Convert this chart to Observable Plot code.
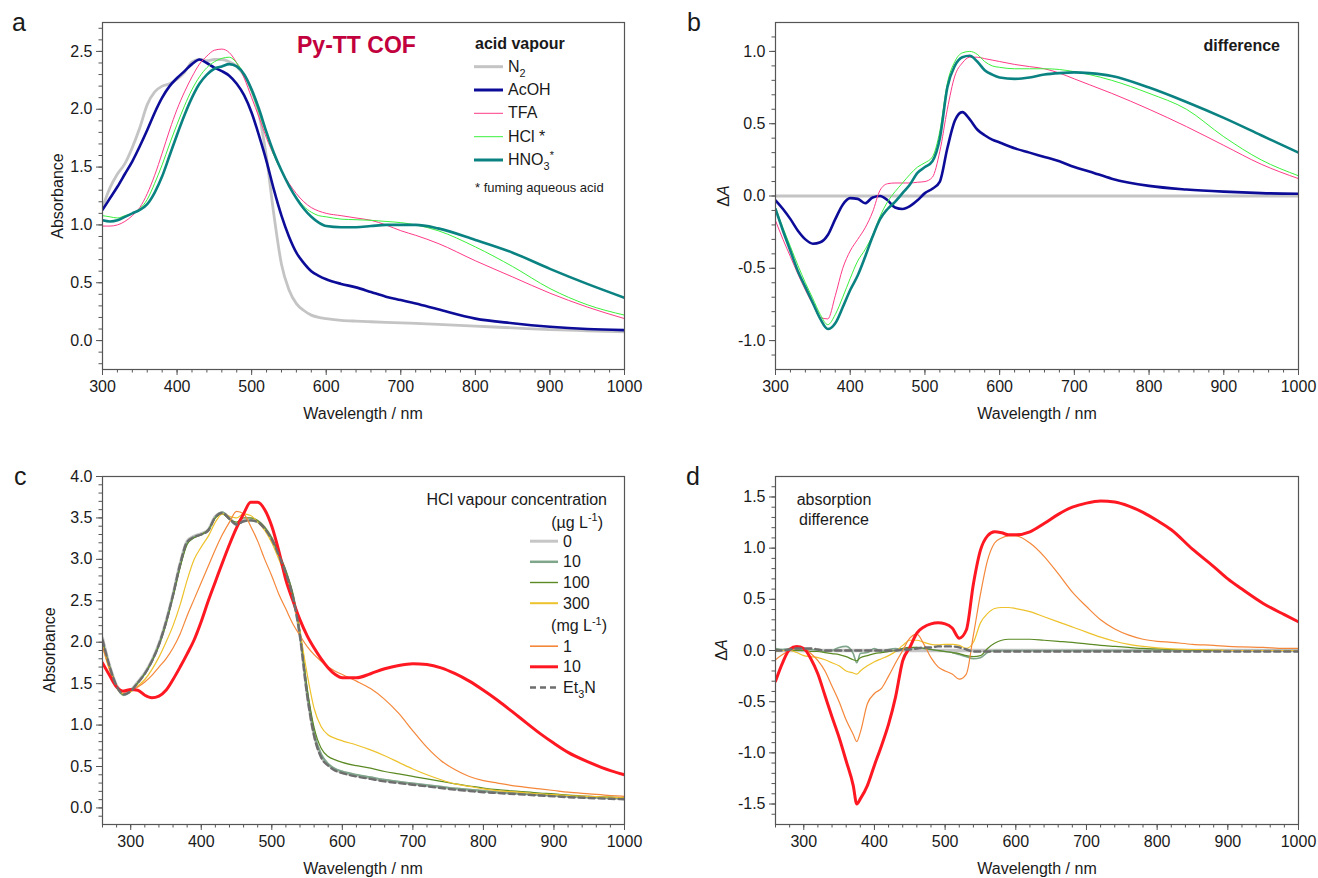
<!DOCTYPE html>
<html>
<head>
<meta charset="utf-8">
<script src="https://cdn.jsdelivr.net/npm/d3@7"></script>
<script src="https://cdn.jsdelivr.net/npm/@observablehq/plot@0.6"></script>
<style>
  body { margin: 0; background: #fff; }
  #fig { position: relative; width: 1318px; height: 878px; overflow: hidden; background: #fff;
         font-family: "Liberation Sans", Arial, Helvetica, sans-serif; }
  #fig svg { position: absolute; }
</style>
</head>
<body>
<div id="fig"></div>
<script>
// ---------- (a) absorbance under acid vapours ----------
const wlA = [300,310,320,330,340,350,360,370,380,390,400,410,420,430,440,450,460,470,480,490,500,510,520,530,540,550,560,570,580,
             590,600,620,640,660,680,700,720,750,800,850,900,950,1000];
const absN2   = [1.15,1.32,1.44,1.53,1.67,1.84,2.04,2.15,2.20,2.22,2.26,2.32,2.41,2.43,2.42,2.43,2.43,2.41,2.37,2.29,2.16,1.95,1.58,1.08,0.66,0.44,0.32,0.26,0.22,
                 0.20,0.19,0.175,0.168,0.163,0.158,0.153,0.148,0.14,0.125,0.11,0.095,0.085,0.075];
const absAcOH = [1.13,1.23,1.33,1.44,1.55,1.68,1.82,1.97,2.10,2.20,2.27,2.33,2.39,2.43,2.40,2.36,2.33,2.29,2.22,2.12,1.97,1.77,1.55,1.30,1.08,0.90,0.76,0.67,0.60,
                 0.56,0.53,0.49,0.46,0.42,0.38,0.35,0.32,0.27,0.19,0.15,0.12,0.10,0.09];
const absTFA  = [0.99,0.99,1.00,1.03,1.08,1.15,1.27,1.43,1.62,1.82,2.00,2.15,2.28,2.39,2.46,2.51,2.52,2.49,2.40,2.27,2.10,1.93,1.75,1.60,1.47,1.36,1.27,1.20,1.15,
                 1.12,1.10,1.08,1.06,1.04,1.00,0.95,0.91,0.84,0.69,0.55,0.41,0.29,0.19];
const absHCl  = [1.08,1.07,1.06,1.08,1.10,1.14,1.22,1.36,1.52,1.70,1.87,2.03,2.17,2.28,2.36,2.41,2.44,2.45,2.40,2.30,2.15,1.97,1.78,1.60,1.46,1.34,1.24,1.16,1.11,
                 1.08,1.07,1.05,1.045,1.04,1.03,1.02,1.00,0.95,0.81,0.64,0.45,0.31,0.22];
const absHNO3 = [1.04,1.03,1.04,1.07,1.10,1.13,1.18,1.28,1.42,1.60,1.78,1.95,2.10,2.22,2.30,2.35,2.37,2.39,2.37,2.30,2.17,2.00,1.80,1.62,1.47,1.34,1.23,1.14,1.07,
                 1.02,0.99,0.98,0.98,0.99,1.00,1.00,1.00,0.97,0.87,0.76,0.62,0.49,0.37];

// ---------- (b) difference spectra (same wavelength grid) ----------
const wlZeroB  = [300, 1000];
const diffN2   = [0, 0];
const diffAcOH = [-0.03,-0.09,-0.16,-0.24,-0.30,-0.33,-0.32,-0.27,-0.16,-0.06,-0.015,-0.02,-0.05,-0.01,0.00,-0.03,-0.08,-0.09,-0.07,-0.03,0.02,0.05,0.10,0.33,0.52,0.58,0.53,0.46,0.42,
                  0.39,0.37,0.33,0.30,0.27,0.24,0.20,0.17,0.12,0.07,0.045,0.03,0.02,0.015];
const diffTFA  = [-0.17,-0.30,-0.42,-0.54,-0.65,-0.75,-0.84,-0.85,-0.69,-0.50,-0.38,-0.30,-0.22,-0.11,0.04,0.085,0.09,0.09,0.09,0.095,0.10,0.13,0.31,0.60,0.83,0.92,0.96,0.96,0.95,
                  0.94,0.93,0.91,0.895,0.88,0.85,0.81,0.77,0.71,0.60,0.48,0.35,0.22,0.12];
const diffHCl  = [-0.08,-0.22,-0.35,-0.48,-0.60,-0.71,-0.82,-0.89,-0.82,-0.70,-0.57,-0.45,-0.37,-0.27,-0.14,-0.04,0.03,0.09,0.15,0.20,0.23,0.27,0.45,0.78,0.93,0.99,1.00,0.98,0.93,
                  0.90,0.89,0.88,0.88,0.88,0.875,0.86,0.84,0.80,0.71,0.60,0.41,0.25,0.14];
const diffHNO3 = [-0.09,-0.24,-0.38,-0.52,-0.63,-0.74,-0.85,-0.92,-0.88,-0.77,-0.65,-0.55,-0.42,-0.28,-0.16,-0.09,-0.04,0.02,0.08,0.16,0.20,0.24,0.40,0.75,0.90,0.96,0.97,0.93,0.87,
                  0.84,0.82,0.81,0.82,0.84,0.85,0.855,0.85,0.83,0.75,0.65,0.54,0.42,0.30];

// ---------- (c) absorbance vs HCl vapour concentration ----------
const wlC = [260,270,280,290,300,310,320,330,340,350,360,370,380,390,400,410,420,430,440,450,460,470,480,490,500,510,520,530,540,550,560,570,580,590,600,
             620,640,660,680,700,720,740,760,780,800,820,850,880,900,920,950,980,1000];
const absC0    = [2.05,1.72,1.48,1.37,1.42,1.52,1.63,1.78,1.98,2.25,2.58,2.95,3.22,3.28,3.31,3.36,3.52,3.56,3.50,3.43,3.47,3.48,3.46,3.38,3.25,3.06,2.84,2.55,2.08,1.38,0.88,0.62,0.52,0.46,0.43,
                  0.39,0.36,0.33,0.31,0.29,0.27,0.25,0.23,0.215,0.20,0.19,0.175,0.16,0.15,0.14,0.13,0.12,0.115];
const absC10   = [2.00,1.70,1.47,1.36,1.41,1.51,1.62,1.77,1.97,2.24,2.57,2.93,3.20,3.27,3.30,3.35,3.51,3.57,3.49,3.42,3.46,3.47,3.45,3.37,3.24,3.05,2.85,2.56,2.10,1.40,0.90,0.65,0.53,0.47,0.44,
                  0.40,0.37,0.34,0.315,0.295,0.275,0.255,0.235,0.22,0.205,0.19,0.175,0.16,0.15,0.14,0.13,0.12,0.115];
const absC100  = [2.02,1.71,1.47,1.37,1.41,1.51,1.62,1.77,1.96,2.22,2.55,2.90,3.18,3.26,3.30,3.36,3.50,3.55,3.48,3.45,3.50,3.50,3.47,3.39,3.26,3.07,2.86,2.58,2.12,1.45,0.97,0.72,0.62,0.58,0.55,
                  0.51,0.48,0.44,0.41,0.38,0.35,0.32,0.29,0.265,0.24,0.22,0.20,0.18,0.17,0.155,0.14,0.13,0.12];
const absC300  = [1.95,1.66,1.45,1.38,1.40,1.47,1.55,1.67,1.82,2.00,2.20,2.45,2.75,3.00,3.15,3.28,3.45,3.55,3.52,3.50,3.55,3.53,3.45,3.35,3.20,3.00,2.78,2.50,2.12,1.62,1.20,0.98,0.88,0.84,0.81,
                  0.76,0.70,0.63,0.55,0.47,0.40,0.34,0.29,0.26,0.23,0.21,0.19,0.17,0.16,0.15,0.14,0.13,0.12];
const absC1mg  = [1.95,1.68,1.47,1.40,1.42,1.46,1.52,1.60,1.70,1.80,1.93,2.10,2.32,2.52,2.72,2.92,3.12,3.30,3.45,3.58,3.55,3.40,3.22,3.00,2.80,2.58,2.40,2.22,2.08,1.95,1.85,1.77,1.70,1.65,1.61,
                  1.53,1.44,1.31,1.14,0.93,0.73,0.57,0.46,0.38,0.33,0.30,0.26,0.23,0.21,0.19,0.17,0.15,0.14];
const absC10mg = [1.75,1.60,1.46,1.41,1.43,1.42,1.36,1.33,1.35,1.42,1.55,1.70,1.86,2.03,2.25,2.50,2.73,2.96,3.18,3.38,3.55,3.69,3.69,3.60,3.40,3.10,2.75,2.50,2.27,2.08,1.93,1.80,1.69,1.61,1.57,
                  1.57,1.62,1.68,1.72,1.74,1.73,1.69,1.62,1.53,1.42,1.30,1.10,0.90,0.78,0.67,0.55,0.45,0.40];
const absCEt3N = [2.03,1.71,1.47,1.37,1.41,1.51,1.62,1.77,1.97,2.24,2.57,2.94,3.21,3.27,3.30,3.35,3.51,3.56,3.49,3.42,3.46,3.47,3.45,3.37,3.24,3.05,2.83,2.54,2.07,1.37,0.87,0.61,0.51,0.45,0.42,
                  0.38,0.35,0.32,0.30,0.28,0.26,0.24,0.22,0.205,0.19,0.18,0.165,0.15,0.14,0.13,0.12,0.11,0.105];

// ---------- (d) absorption difference vs HCl concentration ----------
const wlD = [260,270,280,290,300,310,320,330,340,350,360,370,375,380,390,400,410,420,430,440,450,460,470,480,490,500,510,520,530,540,550,560,570,580,590,600,
             620,640,660,680,700,720,740,760,780,800,820,850,880,900,920,950,980,1000];
const wlZeroD  = [260, 1000];
const diffD0   = [0, 0];
const diffD10  = [0.02,0.01,0.02,0.01,0.00,0.01,0.00,-0.01,0.00,0.03,0.04,-0.03,-0.12,-0.03,-0.02,0.02,-0.01,0.01,0.02,0.01,0.02,0.03,0.02,0.01,0.00,-0.01,-0.02,-0.04,-0.06,-0.08,-0.07,-0.02,0.00,0.00,0.00,0.00,
                  0,0,0,0,0,0,0,0,0,0,0,0,0,0,0,0,0,0];
const diffD100 = [0.01,0.00,0.00,0.00,0.00,-0.01,-0.01,-0.02,-0.03,-0.04,-0.06,-0.09,-0.10,-0.07,-0.05,-0.03,-0.02,-0.01,0.00,0.02,0.03,0.03,0.02,0.01,0.00,-0.01,-0.02,-0.03,-0.05,-0.06,-0.05,0.02,0.07,0.10,0.11,0.11,
                  0.11,0.10,0.09,0.08,0.065,0.05,0.04,0.03,0.02,0.015,0.01,0.005,0,0,0,0,0,0];
const diffD300 = [-0.01,0.00,0.00,-0.02,-0.05,-0.06,-0.07,-0.09,-0.12,-0.15,-0.20,-0.22,-0.23,-0.20,-0.15,-0.11,-0.08,-0.05,-0.01,0.05,0.10,0.10,0.08,0.06,0.055,0.06,0.06,0.05,0.02,0.08,0.27,0.36,0.41,0.42,0.42,0.41,
                  0.38,0.33,0.28,0.23,0.18,0.13,0.09,0.06,0.04,0.025,0.015,0.01,0.005,0,0,0,0,0];
const diffD1mg = [-0.09,-0.04,0.00,0.02,0.02,-0.03,-0.10,-0.20,-0.35,-0.50,-0.68,-0.82,-0.89,-0.80,-0.52,-0.42,-0.37,-0.25,-0.12,0.00,0.12,0.16,0.06,-0.07,-0.16,-0.20,-0.23,-0.28,-0.23,0.15,0.55,0.88,1.05,1.10,1.12,1.12,
                  1.05,0.92,0.75,0.57,0.43,0.30,0.21,0.15,0.11,0.09,0.08,0.06,0.05,0.04,0.035,0.03,0.02,0.02];
const diffD10mg = [-0.30,-0.12,0.01,0.04,0.02,-0.08,-0.23,-0.44,-0.65,-0.85,-1.08,-1.32,-1.50,-1.45,-1.32,-1.12,-0.93,-0.72,-0.45,-0.10,0.03,0.17,0.23,0.26,0.27,0.26,0.22,0.12,0.20,0.65,0.98,1.12,1.16,1.15,1.13,1.13,
                  1.16,1.24,1.33,1.40,1.44,1.46,1.45,1.41,1.35,1.27,1.18,0.99,0.82,0.70,0.60,0.46,0.35,0.28];
const diffDEt3N = [0.00,0.00,0.01,0.02,0.02,0.02,0.01,0.00,0.00,0.00,0.00,0.00,0.00,0.00,0.00,0.00,0.00,0.00,0.00,0.01,0.01,0.02,0.03,0.03,0.04,0.04,0.04,0.03,0.01,-0.01,-0.01,-0.01,-0.01,-0.01,-0.01,-0.01,
                  -0.01,-0.01,-0.01,-0.01,-0.01,-0.01,-0.01,-0.01,-0.01,-0.01,-0.01,-0.01,-0.01,-0.01,-0.01,-0.01,-0.01,-0.01];

// ---------- axis ticks ----------
const ticksX300 = [300,400,500,600,700,800,900,1000];
const ticksYa = [0,0.5,1,1.5,2,2.5];
const ticksYb = [-1,-0.5,0,0.5,1];
const ticksYc = [0,0.5,1,1.5,2,2.5,3,3.5,4];
const ticksYd = [-1.5,-1,-0.5,0,0.5,1,1.5];

// ---------- series styles ----------
const C = {
  n2: "#c4c4c4", acoh: "#0c0c98", tfa: "#ff3a88", hcl: "#3cf03c", hno3: "#0b8282",
  c0: "#c6c6c6", c10: "#7fa58a", c100: "#5b8a24", c300: "#eec22c", c1: "#f5873a", c10mg: "#ff1822", et3n: "#6e6e6e"
};

const FONT = '"Liberation Sans", Arial, Helvetica, sans-serif';
const fig = document.getElementById("fig");

function rows(wl, values) { return wl.map((w, i) => ({w, v: values[i]})); }

function panel(o) {
  const svg = Plot.plot({
    width: 659, height: 439,
    marginLeft: o.ml, marginRight: o.mr, marginTop: o.mt, marginBottom: o.mb,
    x: {domain: o.xDomain, label: null, axis: null},
    y: {domain: o.yDomain, label: null, axis: null},
    style: {fontFamily: FONT, fontSize: "16px", color: "#1a1a1a", background: "transparent", overflow: "visible"},
    marks: [
      ...o.series.map(s => Plot.line(rows(s.wl, s.v), {
        x: "w", y: "v", stroke: s.color, strokeWidth: s.width,
        strokeDasharray: s.dash, curve: "monotone-x", clip: true
      })),
      Plot.frame({stroke: "#555", strokeWidth: 1.2}),
      Plot.axisX(o.xMinor, {tickSize: 3.5, tickFormat: () => "", stroke: "#555", label: null}),
      Plot.axisX(o.xMajor, {tickSize: 6, tickPadding: 5, tickFormat: d => String(d), stroke: "#555", fill: "#1a1a1a", fontSize: 16, label: null}),
      Plot.axisY(o.yMinor, {tickSize: 3.5, tickFormat: () => "", stroke: "#555", label: null}),
      Plot.axisY(o.yMajor, {tickSize: 6, tickPadding: 4, tickFormat: d => d.toFixed(1), stroke: "#555", fill: "#1a1a1a", fontSize: 16, label: null})
    ]
  });
  svg.style.left = o.left + "px";
  svg.style.top = o.top + "px";
  fig.append(svg);
}

panel({
  left: 0, top: 0, ml: 102, mr: 35, mt: 22, mb: 70,
  xDomain: [300, 1000], yDomain: [-0.25, 2.75],
  xMajor: ticksX300, xMinor: d3.range(300, 1001, 20),
  yMajor: ticksYa, yMinor: d3.range(-2, 28).map(i => i / 10),
  series: [
    {wl: wlA, v: absN2, color: C.n2, width: 2.8},
    {wl: wlA, v: absAcOH, color: C.acoh, width: 2.6},
    {wl: wlA, v: absTFA, color: C.tfa, width: 1},
    {wl: wlA, v: absHCl, color: C.hcl, width: 1},
    {wl: wlA, v: absHNO3, color: C.hno3, width: 2.6}
  ]
});

panel({
  left: 659, top: 0, ml: 116, mr: 20, mt: 22, mb: 70,
  xDomain: [300, 1000], yDomain: [-1.2, 1.2],
  xMajor: ticksX300, xMinor: d3.range(300, 1001, 20),
  yMajor: ticksYb, yMinor: d3.range(-11, 12).map(i => i / 10),
  series: [
    {wl: wlZeroB, v: diffN2, color: C.n2, width: 3},
    {wl: wlA, v: diffAcOH, color: C.acoh, width: 2.6},
    {wl: wlA, v: diffTFA, color: C.tfa, width: 1},
    {wl: wlA, v: diffHCl, color: C.hcl, width: 1},
    {wl: wlA, v: diffHNO3, color: C.hno3, width: 2.6}
  ]
});

panel({
  left: 0, top: 439, ml: 102, mr: 35, mt: 37, mb: 54,
  xDomain: [260, 1000], yDomain: [-0.2, 4.0],
  xMajor: ticksX300, xMinor: d3.range(260, 1001, 20),
  yMajor: ticksYc, yMinor: d3.range(-1, 40).map(i => i / 10),
  series: [
    {wl: wlC, v: absC0, color: C.c0, width: 3},
    {wl: wlC, v: absC10, color: C.c10, width: 2},
    {wl: wlC, v: absC100, color: C.c100, width: 1.2},
    {wl: wlC, v: absC300, color: C.c300, width: 1.2},
    {wl: wlC, v: absC1mg, color: C.c1, width: 1.2},
    {wl: wlC, v: absC10mg, color: C.c10mg, width: 3},
    {wl: wlC, v: absCEt3N, color: C.et3n, width: 2.4, dash: "6,4"}
  ]
});

panel({
  left: 659, top: 439, ml: 116, mr: 20, mt: 37, mb: 54,
  xDomain: [260, 1000], yDomain: [-1.7, 1.7],
  xMajor: ticksX300, xMinor: d3.range(260, 1001, 20),
  yMajor: ticksYd, yMinor: d3.range(-16, 17).map(i => i / 10),
  series: [
    {wl: wlZeroD, v: diffD0, color: C.c0, width: 3.5},
    {wl: wlD, v: diffD10, color: C.c10, width: 1.6},
    {wl: wlD, v: diffD100, color: C.c100, width: 1.2},
    {wl: wlD, v: diffD300, color: C.c300, width: 1.2},
    {wl: wlD, v: diffD1mg, color: C.c1, width: 1.2},
    {wl: wlD, v: diffD10mg, color: C.c10mg, width: 3},
    {wl: wlD, v: diffDEt3N, color: C.et3n, width: 2.4, dash: "6,4"}
  ]
});

// ---------- annotation layer: panel letters, axis titles, legends ----------
const ov = d3.create("svg")
  .attr("width", 1318).attr("height", 878)
  .style("left", "0px").style("top", "0px").style("pointer-events", "none")
  .attr("font-family", FONT);

function label(x, y, parts, {size = 16, anchor = "start", weight = "normal", fill = "#1a1a1a", rotate = 0} = {}) {
  const t = ov.append("text").attr("x", x).attr("y", y)
    .attr("font-size", size).attr("text-anchor", anchor)
    .attr("font-weight", weight).attr("fill", fill);
  if (rotate) t.attr("transform", `rotate(${rotate},${x},${y})`);
  let cur = 0;
  for (const p of (typeof parts === "string" ? [[parts]] : parts)) {
    const [s, kind, italic] = p;
    const target = kind === "sub" ? size * 0.3 : kind === "sup" ? -size * 0.38 : 0;
    const sp = t.append("tspan").attr("dy", target - cur)
      .attr("font-size", kind ? size * 0.68 : size).text(s);
    if (italic) sp.attr("font-style", "italic");
    cur = target;
  }
  return t;
}

function swatch(x1, x2, y, color, width, dash) {
  ov.append("line").attr("x1", x1).attr("x2", x2).attr("y1", y).attr("y2", y)
    .attr("stroke", color).attr("stroke-width", width)
    .attr("stroke-dasharray", dash || null);
}

// panel letters
label(12, 31, "a", {size: 25});
label(687, 31, "b", {size: 25});
label(14, 485, "c", {size: 25});
label(686, 485, "d", {size: 25});

// axis titles
label(63, 196, "Absorbance", {anchor: "middle", rotate: -90});
label(729, 196, [["\u0394"], ["A", null, true]], {anchor: "middle", rotate: -90});
label(55, 650, "Absorbance", {anchor: "middle", rotate: -90});
label(727, 650, [["\u0394"], ["A", null, true]], {anchor: "middle", rotate: -90});
label(363, 419, "Wavelength / nm", {anchor: "middle"});
label(1037, 419, "Wavelength / nm", {anchor: "middle"});
label(363, 874, "Wavelength / nm", {anchor: "middle"});
label(1037, 874, "Wavelength / nm", {anchor: "middle"});

// panel a: title and legend
label(297, 53, "Py-TT COF", {size: 23, weight: "bold", fill: "#c2003d"});
label(475, 49, "acid vapour", {weight: "bold"});
const legendA = [
  {parts: [["N"], ["2", "sub"]], color: C.n2, width: 3, y: 71.7},
  {parts: "AcOH", color: C.acoh, width: 3, y: 95},
  {parts: "TFA", color: C.tfa, width: 1, y: 118.3},
  {parts: "HCl *", color: C.hcl, width: 1, y: 141.7},
  {parts: [["HNO"], ["3", "sub"], ["*", "sup"]], color: C.hno3, width: 3, y: 165}
];
for (const e of legendA) {
  swatch(474, 503, e.y - 5, e.color, e.width);
  label(508, e.y, e.parts);
}
label(475, 191.5, "* fuming aqueous acid", {size: 13});

// panel b annotation
label(1280, 50.5, "difference", {anchor: "end", weight: "bold"});

// panel c legend
label(607, 505, "HCl vapour concentration", {anchor: "end"});
label(603, 527.5, [["(\u00b5g L"], ["-1", "sup"], [")"]], {anchor: "end"});
label(607, 631, [["(mg L"], ["-1", "sup"], [")"]], {anchor: "end"});
const legendC = [
  {text: "0", color: C.c0, width: 3, y: 546.7},
  {text: "10", color: C.c10, width: 2.5, y: 567.3},
  {text: "100", color: C.c100, width: 1.4, y: 588},
  {text: "300", color: C.c300, width: 2, y: 608.7},
  {text: "1", color: C.c1, width: 1.6, y: 651.7},
  {text: "10", color: C.c10mg, width: 3, y: 672.3},
  {text: [["Et"], ["3", "sub"], ["N"]], color: C.et3n, width: 2.4, y: 693, dash: "6,4"}
];
for (const e of legendC) {
  swatch(530, 558, e.y - 5.5, e.color, e.width, e.dash);
  label(563, e.y, e.text);
}

// panel d annotation
label(834, 505, "absorption", {anchor: "middle"});
label(834, 525, "difference", {anchor: "middle"});

fig.append(ov.node());
</script>
</body>
</html>
